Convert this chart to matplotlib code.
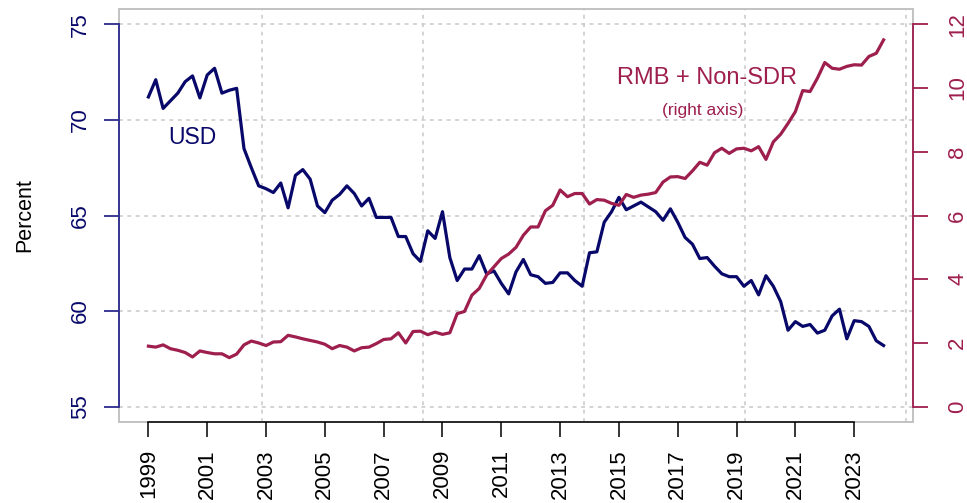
import numpy as np
import matplotlib.pyplot as plt
from matplotlib.patches import Rectangle

plt.rcParams['font.family'] = ['Liberation Sans', 'DejaVu Sans']

# quarterly shares of reserves, 1999Q1 - 2024Q1
usd = [71.2, 72.1, 70.6, 71.0, 71.4, 72.0, 72.3, 71.15, 72.35, 72.7,
       71.4, 71.55, 71.65, 68.5, 67.5, 66.55, 66.4, 66.2, 66.7, 65.4,
       67.1, 67.4, 66.9, 65.5, 65.15, 65.8, 66.1, 66.55, 66.15, 65.5,
       65.9, 64.9, 64.9, 64.9, 63.9, 63.9, 63.0, 62.6, 64.2, 63.8,
       65.2, 62.8, 61.6, 62.2, 62.2, 62.9, 61.95, 62.1, 61.45, 60.9,
       62.05, 62.7, 61.9, 61.8, 61.45, 61.5, 62.0, 62.0, 61.6, 61.3,
       63.05, 63.1, 64.65, 65.2, 65.95, 65.3, 65.5, 65.7, 65.45, 65.2,
       64.75, 65.35, 64.65, 63.85, 63.5, 62.75, 62.8, 62.35, 61.95, 61.8,
       61.8, 61.3, 61.6, 60.85, 61.85, 61.3, 60.5, 59.0, 59.45, 59.2,
       59.3, 58.85, 59.0, 59.75, 60.1, 58.55, 59.5, 59.45, 59.2, 58.45,
       58.2]
rmb_nonsdr = [1.90, 1.87, 1.94, 1.82, 1.77, 1.70, 1.56, 1.75, 1.70, 1.66,
              1.66, 1.54, 1.65, 1.94, 2.06, 2.00, 1.92, 2.03, 2.04, 2.24,
              2.19, 2.13, 2.08, 2.03, 1.96, 1.82, 1.92, 1.87, 1.75, 1.85,
              1.87, 1.98, 2.11, 2.13, 2.32, 2.00, 2.36, 2.37, 2.26, 2.34,
              2.27, 2.32, 2.92, 2.99, 3.50, 3.71, 4.13, 4.39, 4.65, 4.79,
              5.00, 5.38, 5.64, 5.64, 6.15, 6.32, 6.80, 6.59, 6.69, 6.69,
              6.36, 6.50, 6.48, 6.38, 6.32, 6.66, 6.57, 6.64, 6.67, 6.72,
              7.05, 7.21, 7.22, 7.16, 7.40, 7.67, 7.58, 7.97, 8.11, 7.95,
              8.09, 8.11, 8.03, 8.16, 7.76, 8.31, 8.55, 8.89, 9.26, 9.92,
              9.89, 10.31, 10.80, 10.62, 10.59, 10.68, 10.73, 10.72, 10.99, 11.09,
              11.51]
years = 1999 + 0.25 * np.arange(len(usd))
tick_years = list(range(1999, 2024, 2))
left_ticks = [55, 60, 65, 70, 75]
right_ticks = [0, 2, 4, 6, 8, 10, 12]
# vertical grid sits at 2000-day steps of the date axis
grid_days = [12000, 14000, 16000, 18000, 20000]

navy = '#08086a'
navy_axis = '#2b2b8c'
crimson = '#9e1f4e'
gray = '#bdbdbd'

fig = plt.figure(figsize=(9.67, 5.03), dpi=100)
ax = fig.add_axes([119 / 967, 81 / 503, 794 / 967, 413 / 503])
ax2 = ax.twinx()

ax.set_xlim(1998, 2025)
ax.set_ylim(54.2, 75.8)
ax2.set_ylim(-0.48, 12.48)

# grid
for v in left_ticks:
    ax.axhline(v, color='#c8c8c8', lw=1.1, ls=(0, (2.5, 3)), zorder=0)
for d in grid_days:
    ax.axvline(1970 + d / 365.25, color='#c8c8c8', lw=1.1, ls=(0, (2.5, 3)), zorder=0)

ax.add_patch(Rectangle((0, 0), 1, 1, transform=ax.transAxes, fill=False,
                       ec=gray, lw=1.3, clip_on=False, zorder=1))

ax.plot(years, usd, color=navy, lw=2.3, zorder=3)
ax2.plot(years, rmb_nonsdr, color=crimson, lw=2.3, zorder=3)

# axes in R style
for s in ['top', 'right']:
    ax.spines[s].set_visible(False)
for s in ['top', 'left', 'bottom']:
    ax2.spines[s].set_visible(False)
ax.spines['left'].set_bounds(55, 75)
ax.spines['left'].set_color(navy_axis)
ax.spines['left'].set_linewidth(1.3)
ax.spines['bottom'].set_bounds(1999, 2023)
ax.spines['bottom'].set_color('black')
ax.spines['bottom'].set_linewidth(1.1)
ax2.spines['right'].set_bounds(0, 12)
ax2.spines['right'].set_color(crimson)
ax2.spines['right'].set_linewidth(1.3)

ax.set_yticks(left_ticks)
ax.set_yticklabels([str(v) for v in left_ticks], rotation=90, va='center')
ax.tick_params(axis='y', colors=navy_axis, labelcolor=navy, length=11, width=1.3,
               labelsize=16, pad=9)
ax2.set_yticks(right_ticks)
ax2.set_yticklabels([str(v) for v in right_ticks], rotation=90, va='center')
ax2.tick_params(axis='y', colors=crimson, labelcolor=crimson, length=11, width=1.3,
                labelsize=16, pad=13.5)
ax.set_xticks(tick_years)
ax.set_xticklabels([str(y) for y in tick_years], rotation=90)
ax.tick_params(axis='x', colors='black', length=11, width=1.1, labelsize=16, pad=8.5)

ax.set_ylabel('Percent', fontsize=15.5, labelpad=25)

ax.text(2000.5, 69.1, 'USD', color=navy, fontsize=16.5, ha='center', va='center')
ax2.text(2018.0, 10.3, 'RMB + Non-SDR', color=crimson, fontsize=17, ha='center', va='center')
ax2.text(2017.85, 9.3, '(right axis)', color=crimson, fontsize=12.5, ha='center', va='center')

fig.savefig('out.png', dpi=100)
